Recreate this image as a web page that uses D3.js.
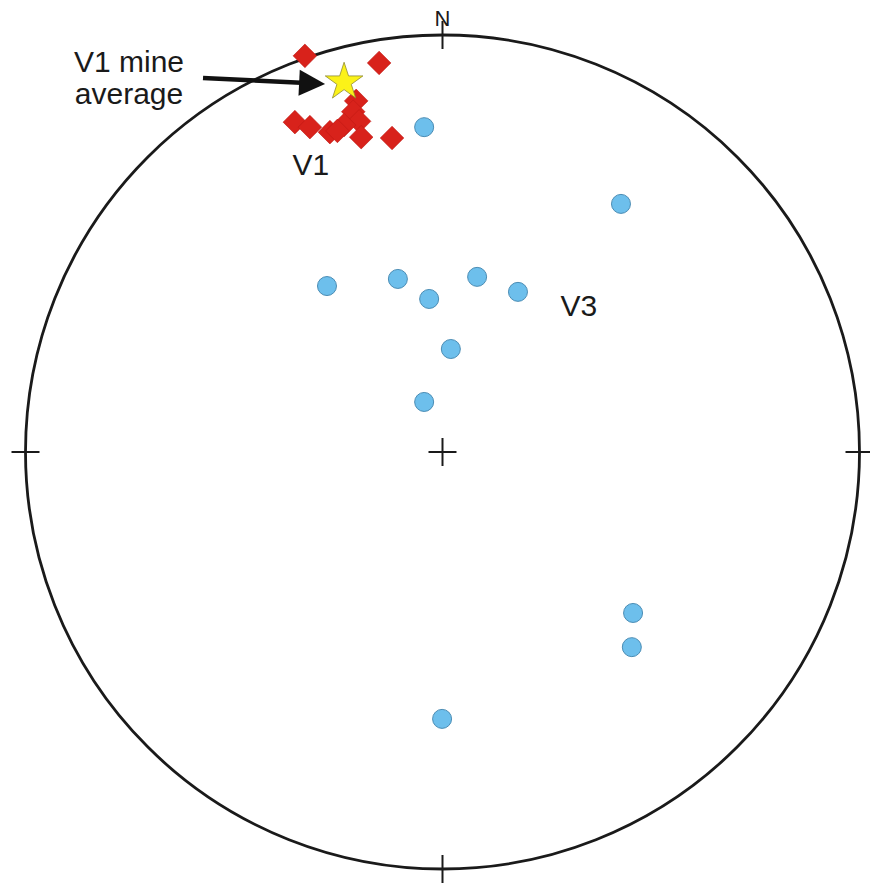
<!DOCTYPE html>
<html>
<head>
<meta charset="utf-8">
<script src="https://cdn.jsdelivr.net/npm/d3@7"></script>
<style>
  html, body { margin: 0; padding: 0; background: #fff; }
  svg { display: block; }
  text { font-family: Arial, "Liberation Sans", sans-serif; fill: #1a1a1a; }
</style>
</head>
<body>
<svg id="chart" width="870" height="886"></svg>
<script>
// Lower-hemisphere projection coordinates (unit circle): x = east, y = north
const v3PolesX = [-0.044, 0.428, -0.277, -0.107, -0.032, 0.083, 0.181, 0.020, -0.044, 0.457, 0.454, -0.001];
const v3PolesY = [0.779, 0.595, 0.398, 0.415, 0.367, 0.420, 0.384, 0.247, 0.120, -0.386, -0.468, -0.640];

const v1PolesX = [-0.330, -0.152, -0.207, -0.214, -0.200, -0.236, -0.354, -0.318, -0.270, -0.252, -0.195, -0.121];
const v1PolesY = [0.950, 0.933, 0.842, 0.816, 0.793, 0.784, 0.791, 0.779, 0.767, 0.770, 0.755, 0.753];

const averageX = [-0.236];
const averageY = [0.892];

const labels = ["V1", "V3"];
const labelX = [-0.360, 0.283];
const labelY = [0.665, 0.327];

const svg = d3.select("#chart");
const cx = 442.5, cy = 452, R = 417;

const sx = d3.scaleLinear().domain([-1, 1]).range([cx - R, cx + R]);
const sy = d3.scaleLinear().domain([-1, 1]).range([cy + R, cy - R]);

// Primitive circle
svg.append("circle")
  .attr("cx", sx(0)).attr("cy", sy(0)).attr("r", R)
  .attr("fill", "none").attr("stroke", "#1a1a1a").attr("stroke-width", 2.8);

// Cardinal ticks
const tickLen = 14;
const ticks = [[0, 1], [1, 0], [0, -1], [-1, 0]];
svg.append("g").selectAll("line").data(ticks).join("line")
  .attr("x1", d => sx(d[0]) - d[0] * tickLen)
  .attr("y1", d => sy(d[1]) + d[1] * tickLen)
  .attr("x2", d => sx(d[0]) + d[0] * tickLen)
  .attr("y2", d => sy(d[1]) - d[1] * tickLen)
  .attr("stroke", "#1a1a1a").attr("stroke-width", 2);

// Centre cross
const arm = 14;
svg.append("line").attr("x1", sx(0) - arm).attr("x2", sx(0) + arm)
  .attr("y1", sy(0)).attr("y2", sy(0)).attr("stroke", "#1a1a1a").attr("stroke-width", 2);
svg.append("line").attr("x1", sx(0)).attr("x2", sx(0))
  .attr("y1", sy(0) - arm).attr("y2", sy(0) + arm).attr("stroke", "#1a1a1a").attr("stroke-width", 2);

// North label
svg.append("text").attr("x", sx(0)).attr("y", sy(1) - 9)
  .attr("text-anchor", "middle").attr("font-size", 22)
  .text("N");

// V3 poles
svg.append("g").selectAll("circle").data(v3PolesX.map((x, i) => [x, v3PolesY[i]])).join("circle")
  .attr("cx", d => sx(d[0])).attr("cy", d => sy(d[1])).attr("r", 9.5)
  .attr("fill", "#6dbfec").attr("stroke", "#4a8cb4").attr("stroke-width", 1);

// V1 poles (diamonds)
const h = 11.8;
const diamond = `M0,${-h}L${h},0L0,${h}L${-h},0Z`;
svg.append("g").selectAll("path").data(v1PolesX.map((x, i) => [x, v1PolesY[i]])).join("path")
  .attr("d", diamond)
  .attr("transform", d => `translate(${sx(d[0])},${sy(d[1])})`)
  .attr("fill", "#d8221b").attr("stroke", "#c01a14").attr("stroke-width", 0.6);

// Mine average (star)
const star = d3.symbol().type(d3.symbolStar).size(440);
svg.append("g").selectAll("path").data(averageX.map((x, i) => [x, averageY[i]])).join("path")
  .attr("d", star)
  .attr("transform", d => `translate(${sx(d[0])},${sy(d[1]) + 2})`)
  .attr("fill", "#fbf218").attr("stroke", "#8f8a30").attr("stroke-width", 0.8);

// Group labels
svg.append("g").selectAll("text").data(labels).join("text")
  .attr("x", (d, i) => sx(labelX[i])).attr("y", (d, i) => sy(labelY[i]))
  .attr("font-size", 30)
  .text(d => d);

// Annotation with arrow
const ann = svg.append("g");
ann.append("text").attr("x", 129).attr("y", 72).attr("text-anchor", "middle")
  .attr("font-size", 30).text("V1 mine");
ann.append("text").attr("x", 129).attr("y", 104).attr("text-anchor", "middle")
  .attr("font-size", 30).text("average");

const tipX = sx(averageX[0]) - 19, tipY = sy(averageY[0]) + 4;
const startX = 203, startY = 78;
const ang = Math.atan2(tipY - startY, tipX - startX);
const headL = 26, headW = 13;
const baseX = tipX - headL * Math.cos(ang), baseY = tipY - headL * Math.sin(ang);
ann.append("line").attr("x1", startX).attr("y1", startY).attr("x2", baseX + 2 * Math.cos(ang)).attr("y2", baseY + 2 * Math.sin(ang))
  .attr("stroke", "#111").attr("stroke-width", 4.5);
ann.append("path")
  .attr("d", `M${tipX},${tipY}L${baseX - headW * Math.sin(ang)},${baseY + headW * Math.cos(ang)}L${baseX + headW * Math.sin(ang)},${baseY - headW * Math.cos(ang)}Z`)
  .attr("fill", "#111");
</script>
</body>
</html>
